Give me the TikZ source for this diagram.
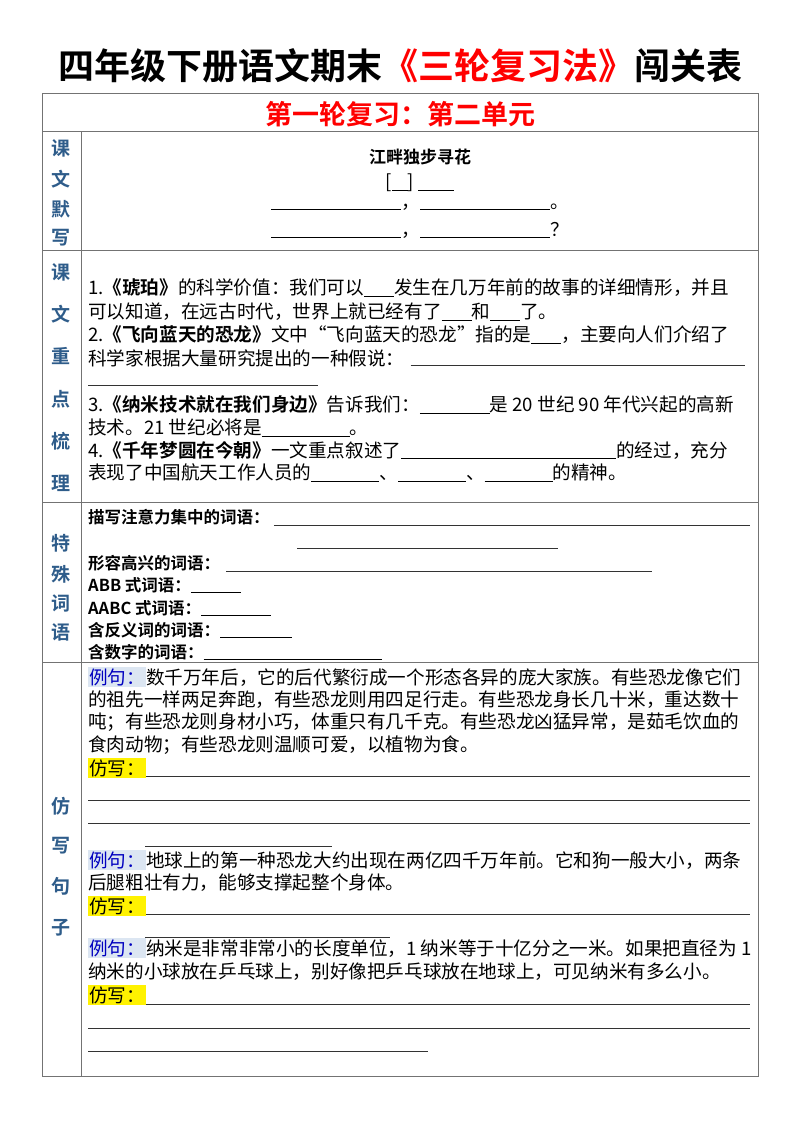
\documentclass[tikz,border=0pt]{standalone}
\usepackage{fontspec}
\setmainfont{Noto Sans CJK SC}[BoldFont={Noto Sans CJK SC Bold}]
\begin{document}
\begin{tikzpicture}[x=1pt,y=-1pt,
  t/.style={anchor=west,inner sep=0pt,font=\fontsize{18.6}{20}\selectfont},
  side/.style={inner sep=0pt,text=sidec,font=\fontsize{19}{20}\selectfont\bfseries},
  ln/.style={line width=0.8pt,black!80},
  grid/.style={line width=0.9pt,black!55},
  lj/.style={fill=lj,inner sep=1pt,text=blue!75!black},
  fx/.style={fill=yellow,inner sep=1pt}]
\definecolor{sidec}{HTML}{2E5C8A}
\definecolor{lj}{HTML}{DCE6F2}
\newcommand{\bl}[1]{\underline{\hspace{#1pt}}}
\useasboundingbox (0,0) rectangle (800,1132);
\fill[white] (0,0) rectangle (800,1132);
% title
\node[inner sep=0pt,font=\fontsize{36}{40}\selectfont\bfseries] (title) at (400,66) {四年级下册语文期末\textcolor{red}{《三轮复习法》}闯关表};
% grid
\draw[grid] (42,93) rectangle (758,1076);
\draw[grid] (42,131) -- (758,131);
\draw[grid] (42,250) -- (758,250);
\draw[grid] (42,502) -- (758,502);
\draw[grid] (42,662) -- (758,662);
\draw[grid] (81,131) -- (81,1076);
\node[inner sep=0pt,text=red,font=\fontsize{27}{30}\selectfont\bfseries] (hdr) at (400,114) {第一轮复习：第二单元};
% side labels
\foreach \c/\y [count=\i] in {课/148,文/179,默/209,写/238} \node[side] (sa\i) at (61,\y) {\c};
\foreach \c/\y [count=\i] in {课/272,文/314,重/356,点/399,梳/441,理/483} \node[side] (sb\i) at (61,\y) {\c};
\foreach \c/\y [count=\i] in {特/543,殊/574,词/603,语/632} \node[side] (sc\i) at (61,\y) {\c};
\foreach \c/\y [count=\i] in {仿/806,写/846,句/886,子/928} \node[side] (sd\i) at (61,\y) {\c};
% row 1
\node[t,anchor=center,font=\fontsize{17}{18}\selectfont\bfseries] (poem) at (420,157) {江畔独步寻花};
\node[t,anchor=center] (p0) at (420,183) {[\bl{16}] \bl{36}};
\node[t,anchor=center] (p1) at (420,207) {\bl{130}，\bl{130}。};
\node[t,anchor=center] (p2) at (420,230) {\bl{130}，\bl{130}？};
% row 2
\node[t] (r1) at (88,288) {1.\textbf{《琥珀》}的科学价值：我们可以\bl{30}发生在几万年前的故事的详细情形，并且};
\node[t] (r2) at (88,312) {可以知道，在远古时代，世界上就已经有了\bl{30}和\bl{30}了。};
\node[t] (r3) at (88,335) {2.\textbf{《飞向蓝天的恐龙》}文中“飞向蓝天的恐龙”指的是\bl{30}，主要向人们介绍了};
\node[t] (r4) at (88,358) {科学家根据大量研究提出的一种假说：};
\coordinate (r4e) at (745,365);
\draw[ln] (r4.east|-r4e) ++(6,0) -- (r4e);
\coordinate (r4a) at (88,385); \coordinate (r4b) at (318,385);
\draw[ln] (r4a) -- (r4b);
\node[t] (r5) at (88,405) {3.\textbf{《纳米技术就在我们身边》}告诉我们：\bl{70}是 20 世纪 90 年代兴起的高新};
\node[t] (r6) at (88,428) {技术。21 世纪必将是\bl{88}。};
\node[t] (r7) at (88,450) {4.\textbf{《千年梦圆在今朝》}一文重点叙述了\bl{215}的经过，充分};
\node[t] (r8) at (88,473) {表现了中国航天工作人员的\bl{68}、\bl{68}、\bl{68}的精神。};
% row 3
\node[t,font=\fontsize{16.5}{20}\selectfont\bfseries] (w1) at (88,517) {描写注意力集中的词语：};
\coordinate (w1e) at (750,525); \draw[ln] (w1.east|-w1e) ++(4,0) -- (w1e);
\coordinate (w1a) at (297,548); \coordinate (w1b) at (558,548); \draw[ln] (w1a) -- (w1b);
\node[t,font=\fontsize{16.5}{20}\selectfont\bfseries] (w2) at (88,563) {形容高兴的词语：};
\coordinate (w2e) at (652,571); \draw[ln] (w2.east|-w2e) ++(6,0) -- (w2e);
\node[t,font=\fontsize{16.5}{20}\selectfont\bfseries] (w3) at (88,585) {ABB 式词语：\bl{50}};
\node[t,font=\fontsize{16.5}{20}\selectfont\bfseries] (w4) at (88,608) {AABC 式词语：\bl{70}};
\node[t,font=\fontsize{16.5}{20}\selectfont\bfseries] (w5) at (88,630) {含反义词的词语：\bl{72}};
\node[t,font=\fontsize{16.5}{20}\selectfont\bfseries] (w6) at (88,652) {含数字的词语：\bl{178}};
% row 4
\node[t] (e1) at (88,677) {\tikz[baseline]\node[lj,anchor=base]{例句：};数千万年后，它的后代繁衍成一个形态各异的庞大家族。有些恐龙像它们};
\node[t] (e2) at (88,700) {的祖先一样两足奔跑，有些恐龙则用四足行走。有些恐龙身长几十米，重达数十};
\node[t] (e3) at (88,722) {吨；有些恐龙则身材小巧，体重只有几千克。有些恐龙凶猛异常，是茹毛饮血的};
\node[t] (e4) at (88,745) {食肉动物；有些恐龙则温顺可爱，以植物为食。};
\node[t] (f1) at (88,768) {\tikz[baseline]\node[fx,anchor=base]{仿写：};};
\coordinate (f1e) at (750,776); \draw[ln] (f1.east|-f1e) -- (f1e);
\coordinate (l1a) at (88,800); \coordinate (l1b) at (750,800); \draw[ln] (l1a) -- (l1b);
\coordinate (l2a) at (88,823); \coordinate (l2b) at (750,823); \draw[ln] (l2a) -- (l2b);
\coordinate (l3a) at (145,846); \coordinate (l3b) at (332,846); \draw[ln] (l3a) -- (l3b);
\node[t] (e5) at (88,860) {\tikz[baseline]\node[lj,anchor=base]{例句：};地球上的第一种恐龙大约出现在两亿四千万年前。它和狗一般大小，两条};
\node[t] (e6) at (88,883) {后腿粗壮有力，能够支撑起整个身体。};
\node[t] (f2) at (88,906) {\tikz[baseline]\node[fx,anchor=base]{仿写：};};
\coordinate (f2e) at (750,914); \draw[ln] (f2.east|-f2e) -- (f2e);
\coordinate (l4a) at (145,937); \coordinate (l4b) at (390,937); \draw[ln] (l4a) -- (l4b);
\node[t] (e7) at (88,948) {\tikz[baseline]\node[lj,anchor=base]{例句：};纳米是非常非常小的长度单位，1 纳米等于十亿分之一米。如果把直径为 1};
\node[t] (e8) at (88,972) {纳米的小球放在乒乓球上，别好像把乒乓球放在地球上，可见纳米有多么小。};
\node[t] (f3) at (88,995) {\tikz[baseline]\node[fx,anchor=base]{仿写：};};
\coordinate (f3e) at (750,1004); \draw[ln] (f3.east|-f3e) -- (f3e);
\coordinate (l5a) at (88,1028); \coordinate (l5b) at (750,1028); \draw[ln] (l5a) -- (l5b);
\coordinate (l6a) at (88,1051); \coordinate (l6b) at (428,1051); \draw[ln] (l6a) -- (l6b);
\end{tikzpicture}
\end{document}
